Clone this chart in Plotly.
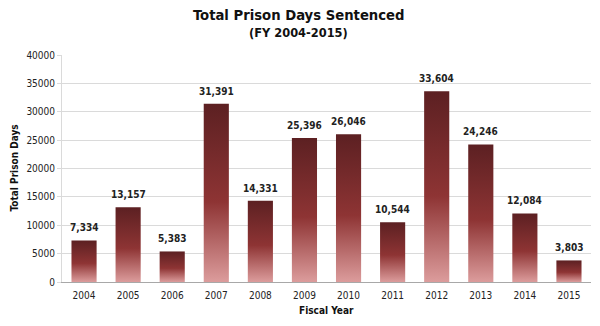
import plotly.graph_objects as go

years = ["2004", "2005", "2006", "2007", "2008", "2009", "2010", "2011", "2012", "2013", "2014", "2015"]
days = [7334, 13157, 5383, 31391, 14331, 25396, 26046, 10544, 33604, 24246, 12084, 3803]
y_ticks = [0, 5000, 10000, 15000, 20000, 25000, 30000, 35000, 40000]

FONT = "DejaVu Sans Condensed, DejaVu Sans, sans-serif"
BAR_HALF = 0.285
GRAD = [[0.0, "#dc9c9c"], [0.45, "#8e3434"], [1.0, "#5c2022"]]

fig = go.Figure()
for i, (yr, v) in enumerate(zip(years, days)):
    fig.add_trace(go.Scatter(
        x=[i - BAR_HALF, i - BAR_HALF, i + BAR_HALF, i + BAR_HALF, i - BAR_HALF],
        y=[0, v, v, 0, 0],
        mode="lines", line=dict(width=0),
        fill="toself",
        fillgradient=dict(type="vertical", colorscale=GRAD),
        hoverinfo="skip", showlegend=False,
    ))

W, H = 600, 326
L, R, T, B = 62, 9, 55, 44
ph = H - T - B

label_anns = [
    dict(x=i, y=v, xref="x", yref="y", text=f"<b>{v:,}</b>", showarrow=False,
         xanchor="center", yanchor="bottom", yshift=5,
         font=dict(family=FONT, size=10, color="#222"))
    for i, v in enumerate(days)
]

fig.update_layout(
    width=W, height=H,
    margin=dict(l=L, r=R, t=T, b=B),
    paper_bgcolor="white", plot_bgcolor="white",
    font=dict(family=FONT, size=10, color="#222"),
    xaxis=dict(
        range=[-0.5, len(years) - 0.5],
        tickmode="array", tickvals=list(range(len(years))), ticktext=years,
        showgrid=False, zeroline=False,
        showline=True, linecolor="#a8a8a8", linewidth=1,
        ticks="", ticklabelstandoff=4, tickfont=dict(size=10, color="#222"),
    ),
    yaxis=dict(
        range=[0, 40000], tickvals=y_ticks, ticktext=[str(t) for t in y_ticks],
        showgrid=True, gridcolor="#dadada", gridwidth=1,
        zeroline=False,
        showline=True, linecolor="#dadada", linewidth=1,
        ticks="outside", ticklen=4, tickcolor="#dadada",
        tickfont=dict(size=10, color="#222"),
    ),
    annotations=label_anns + [
        dict(text="<b>Total Prison Days Sentenced</b>", xref="paper", yref="paper",
             x=0.5, xshift=-28, y=(H - B - 15) / ph, showarrow=False,
             font=dict(size=14.7, color="#111"), xanchor="center", yanchor="middle"),
        dict(text="<b>(FY 2004-2015)</b>", xref="paper", yref="paper",
             x=0.5, xshift=-28, y=(H - B - 33) / ph, showarrow=False,
             font=dict(size=12.7, color="#111"), xanchor="center", yanchor="middle"),
        dict(text="<b>Total Prison Days</b>", xref="paper", yref="paper",
             x=0, xshift=-48, y=0.5, textangle=-90, showarrow=False,
             font=dict(size=10, color="#111"), xanchor="center", yanchor="middle"),
        dict(text="<b>Fiscal Year</b>", xref="paper", yref="paper",
             x=0.5, y=0, yshift=-28, showarrow=False,
             font=dict(size=10, color="#111"), xanchor="center", yanchor="middle"),
    ],
)

fig.write_html("out.html")
